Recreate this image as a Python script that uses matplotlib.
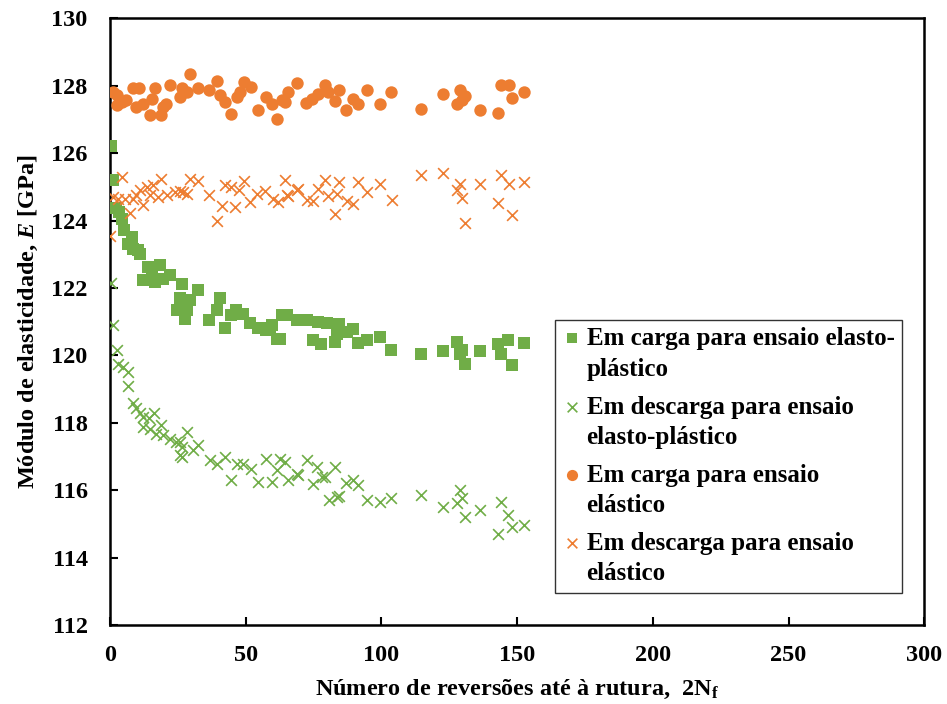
import matplotlib
matplotlib.use("Agg")
import matplotlib.pyplot as plt

plt.rcParams['font.family'] = ['Liberation Serif', 'DejaVu Serif']
plt.rcParams['font.weight'] = 'bold'
plt.rcParams['mathtext.fontset'] = 'custom'
plt.rcParams['mathtext.rm'] = 'Liberation Serif:bold'
plt.rcParams['mathtext.it'] = 'Liberation Serif:bold:italic'
plt.rcParams['mathtext.bf'] = 'Liberation Serif:bold'

GREEN = '#70AD47'
ORANGE = '#ED7D31'

# Em carga, ensaio elasto-plastico
ep_load_x = [0.3, 1, 2.2, 3.4, 4.3, 5.2, 6.8, 8, 8.6, 10.4, 11, 14.1, 12.3, 15.4, 16.6, 18.4,
             19.6, 22.1, 26.4, 25.8, 24.6, 27.6, 28.5, 29.5, 32.5, 36.6, 40.5, 39.3, 42.4, 44.8,
             46.4, 49.1, 51.6, 54.7, 57.5, 59.6, 63.3, 65.1, 68.8, 61.4, 59, 62.7, 70, 72.5,
             76.8, 79.9, 84.5, 74.9, 77.7, 82.9, 83.6, 87.2, 89.7, 91.5, 94.8, 99.5, 103.6,
             114.5, 122.6, 127.8, 129.6, 129, 130.9, 136.4, 142.8, 144, 146.8, 148.1, 152.6]
ep_load_y = [126.2, 125.2, 124.36, 124.26, 124.06, 123.71, 123.32, 123.51, 123.17, 123.12, 123.02,
             122.62, 122.23, 122.33, 122.18, 122.67, 122.28, 122.38, 122.13, 121.69, 121.34,
             121.09, 121.34, 121.64, 121.93, 121.04, 121.69, 121.34, 120.8, 121.19, 121.34,
             121.24, 120.95, 120.8, 120.75, 120.9, 121.19, 121.19, 121.04, 120.5, 120.8, 120.5,
             121.06, 121.04, 121.0, 120.96, 120.93, 120.45, 120.35, 120.4, 120.65, 120.7,
             120.77, 120.37, 120.45, 120.55, 120.17, 120.04, 120.13, 120.4, 120.17, 120.04,
             119.76, 120.13, 120.33, 120.04, 120.45, 119.71, 120.37]

# Em descarga, ensaio elasto-plastico
ep_unload_x = [0.3, 1.2, 2.5, 3.1, 4.7, 6.8, 6.8, 8.4, 9.8, 11, 12.3, 12.3, 14.5, 14.7, 16.2,
               16.9, 19, 19.6, 22.1, 24.3, 25.8, 28.5, 26.4, 30.5, 32.5, 25.8, 26.4, 36.9,
               39.3, 42.4, 44.8, 46.7, 49.1, 51.9, 54.7, 57.5, 59.6, 62.7, 64.5, 61.4, 65.7,
               68.8, 69.4, 72.5, 74.7, 76.4, 78, 79.2, 82.9, 80.8, 83.6, 84.5, 87, 89.5, 91.5,
               94.8, 99.5, 103.6, 114.5, 122.6, 129, 129.6, 127.8, 130.9, 136.4, 144, 142.8,
               146.8, 148.1, 152.6]
ep_unload_y = [122.15, 120.9, 120.17, 119.76, 119.66, 119.51, 119.09, 118.59, 118.43, 118.28,
               118.18, 117.88, 118.13, 117.83, 118.3, 117.68, 117.93, 117.63, 117.53, 117.44,
               117.44, 117.73, 117.29, 117.21, 117.34, 117.04, 117.0, 116.89, 116.77, 116.99,
               116.32, 116.79, 116.79, 116.64, 116.25, 116.94, 116.25, 116.94, 116.84, 116.6,
               116.3, 116.48, 116.45, 116.89, 116.18, 116.7, 116.4, 116.4, 116.7, 115.71,
               115.81, 115.83, 116.22, 116.3, 116.15, 115.71, 115.66, 115.76, 115.85, 115.49,
               116.02, 115.76, 115.61, 115.21, 115.43, 115.66, 114.7, 115.26, 114.9, 114.98]

# Em carga, ensaio elastico
el_load_x = [1, 2.5, 2.5, 4.3, 6.1, 8.6, 10.8, 9.6, 12.3, 14.7, 15.4, 16.6, 19, 19.6, 20.6,
             22.1, 25.8, 26.4, 28.3, 29.7, 32.5, 36.6, 39.5, 40.5, 42.4, 44.8, 46.7, 47.9,
             49.4, 51.9, 54.7, 57.5, 59.6, 61.7, 63.3, 64.5, 65.7, 69, 72.2, 74.3, 76.8, 79.2,
             80.5, 82.9, 84.5, 87, 89.7, 91.5, 94.8, 99.5, 103.6, 114.5, 122.6, 129, 130.9,
             127.8, 129.6, 136.4, 142.8, 144, 147.2, 148.1, 152.6]
el_load_y = [127.81, 127.72, 127.42, 127.52, 127.57, 127.92, 127.92, 127.37, 127.47, 127.12,
             127.62, 127.92, 127.12, 127.37, 127.47, 128.01, 127.67, 127.92, 127.81, 128.34,
             127.92, 127.86, 128.14, 127.72, 127.52, 127.17, 127.67, 127.81, 128.11, 127.96,
             127.27, 127.67, 127.47, 127.0, 127.57, 127.52, 127.81, 128.08, 127.49, 127.62,
             127.74, 128.01, 127.81, 127.55, 127.88, 127.27, 127.62, 127.47, 127.86, 127.47,
             127.81, 127.32, 127.74, 127.88, 127.69, 127.47, 127.57, 127.27, 127.19, 128.01,
             128.01, 127.65, 127.81]

# Em descarga, ensaio elastico
el_unload_x = [0, 4.3, 1.2, 3.1, 5.5, 7.4, 8.6, 9.8, 11, 12.3, 13.5, 14.7, 16, 17.8, 19, 20.9,
               24, 25.8, 27, 28.5, 29.5, 32.5, 36.6, 39.3, 41.2, 42.4, 44.8, 46.1, 47.7, 49.4,
               51.6, 54.3, 57.1, 60.2, 62, 64.5, 65.7, 68.8, 69.4, 65.3, 72.5, 74.9, 76.8, 79.2,
               80.5, 82.9, 83.6, 84.5, 87.2, 89.7, 91.5, 94.8, 99.5, 103.8, 114.5, 122.6, 129,
               127.8, 129.6, 130.9, 136.4, 142.8, 144, 147.2, 148.1, 152.6]
el_unload_y = [123.53, 125.3, 124.7, 124.65, 124.65, 124.23, 124.65, 124.75, 124.9, 124.45,
               125.0, 124.75, 125.05, 124.7, 125.22, 124.75, 124.85, 124.88, 124.85, 124.78,
               125.22, 125.18, 124.75, 123.99, 124.42, 125.05, 125.0, 124.39, 124.92, 125.18,
               124.55, 124.8, 124.87, 124.65, 124.55, 125.2, 124.72, 124.9, 124.95, 124.75,
               124.6, 124.58, 124.95, 125.2, 124.72, 124.21, 124.8, 125.15, 124.58, 124.5,
               125.15, 124.85, 125.1, 124.62, 125.34, 125.41, 125.1, 124.9, 124.68, 123.93,
               125.1, 124.52, 125.34, 125.1, 124.16, 125.15]

x_ticks = [0, 50, 100, 150, 200, 250, 300]
y_ticks = [112, 114, 116, 118, 120, 122, 124, 126, 128, 130]

fig = plt.figure(figsize=(9.47, 7.04), dpi=100)
ax = fig.add_axes([0.116, 0.112, 0.86, 0.862])

ax.scatter(ep_load_x, ep_load_y, marker='s', s=64, color=GREEN, linewidths=0,
           label='Em carga para ensaio elasto-\nplástico', zorder=3)
ax.scatter(ep_unload_x, ep_unload_y, marker='x', s=60, color=GREEN, linewidths=1.2,
           label='Em descarga para ensaio\nelasto-plástico', zorder=3)
ax.scatter(el_load_x, el_load_y, marker='o', s=80, color=ORANGE, linewidths=0,
           label='Em carga para ensaio\nelástico', zorder=3)
ax.scatter(el_unload_x, el_unload_y, marker='x', s=60, color=ORANGE, linewidths=1.2,
           label='Em descarga para ensaio\nelástico', zorder=3)

ax.set_xlim(0, 300)
ax.set_ylim(112, 130)
ax.set_xticks(x_ticks)
ax.set_yticks(y_ticks)
ax.tick_params(direction='in', length=6, width=1.5, labelsize=17.5)
ax.tick_params(axis='x', pad=14)
ax.tick_params(axis='y', pad=16)
for lbl in ax.get_xticklabels() + ax.get_yticklabels():
    lbl.set_fontweight('bold')
for sp in ax.spines.values():
    sp.set_linewidth(1.8)
    sp.set_color('black')

ax.set_xlabel(r'Número de reversões até à rutura,  2N$_\mathrm{f}$', fontsize=17.5,
              fontweight='bold', labelpad=9)
ax.set_ylabel(r'Módulo de elasticidade, $E$ [GPa]', fontsize=17.5, fontweight='bold',
              labelpad=8)

leg = ax.legend(loc='upper left', bbox_to_anchor=(0.547, 0.503), fontsize=18,
                frameon=True, fancybox=False, handletextpad=0.25, handlelength=0.7,
                borderpad=0.3, labelspacing=0.6, markerscale=0.9, borderaxespad=0)
leg.get_frame().set_edgecolor('black')
leg.get_frame().set_linewidth(1.0)
for t in leg.get_texts():
    t.set_fontweight('bold')
    t.set_linespacing(1.4)
# put each legend marker next to the first line of its two-line label
for column in leg._legend_handle_box.get_children():
    for row in column.get_children():
        row.align = 'top'

fig.savefig('out.png', dpi=100)
